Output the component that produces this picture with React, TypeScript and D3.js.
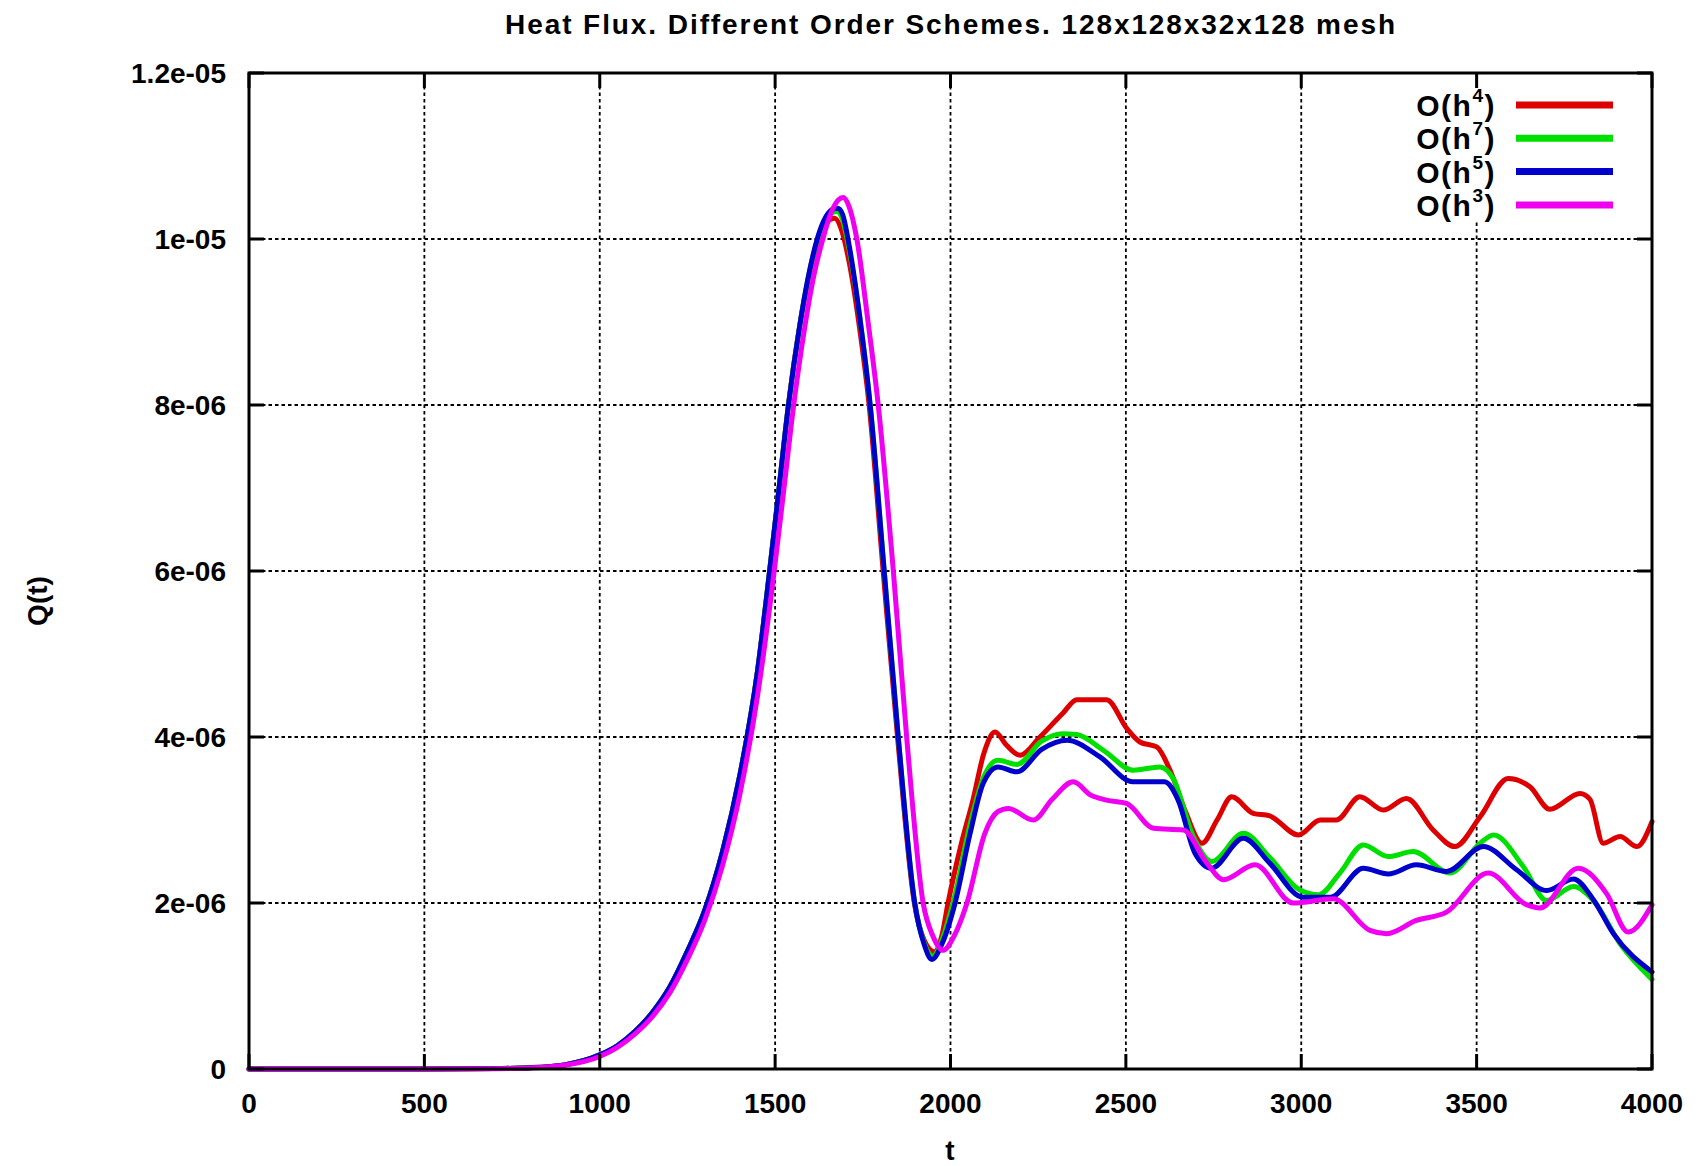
import React from "react";
import * as d3 from "d3";

// ---- data (t, Q in units of 1e-6) ----
const xTicks = [0, 500, 1000, 1500, 2000, 2500, 3000, 3500, 4000];
const yTicks = [0, 2e-6, 4e-6, 6e-6, 8e-6, 1e-5, 1.2e-5];
const yTickLabels = ["0", "2e-06", "4e-06", "6e-06", "8e-06", "1e-05", "1.2e-05"];

const seriesNames = ["4", "7", "5", "3"];
const seriesColors = ["#dd0000", "#00e000", "#0000cc", "#f000f0"];

const red: [number, number][] = [
  [0, 0], [500, 0], [700, 0.005], [800, 0.015], [900, 0.05], [1000, 0.17], [1050, 0.28], [1100, 0.45],
  [1150, 0.68], [1200, 0.99], [1250, 1.42], [1300, 1.92], [1350, 2.62], [1400, 3.55], [1450, 4.8], [1483, 5.95],
  [1510, 6.95], [1538, 8.0], [1570, 8.95], [1595, 9.52], [1620, 9.95], [1645, 10.19], [1670, 10.25], [1690, 10.1],
  [1712, 9.7], [1740, 8.95], [1768, 8.0], [1808, 6.0], [1849, 4.0], [1897, 2.0], [1925, 1.55], [1955, 1.41],
  [1975, 1.6], [1993, 2.0], [2030, 2.7], [2064, 3.24], [2095, 3.8], [2127, 4.06], [2160, 3.9], [2198, 3.78],
  [2255, 4.0], [2321, 4.29], [2360, 4.45], [2445, 4.45], [2503, 4.1], [2540, 3.94], [2588, 3.88], [2626, 3.6],
  [2670, 3.1], [2717, 2.72], [2760, 3.0], [2802, 3.28], [2863, 3.08], [2910, 3.05], [2992, 2.82], [3054, 3.0],
  [3100, 3.0], [3167, 3.28], [3234, 3.12], [3300, 3.26], [3376, 2.88], [3438, 2.68], [3510, 3.04], [3590, 3.5],
  [3652, 3.4], [3709, 3.13], [3795, 3.32], [3823, 3.25], [3861, 2.72], [3909, 2.8], [3957, 2.68], [4000, 2.98],
];

const green: [number, number][] = [
  [0, 0], [500, 0], [700, 0.005], [800, 0.015], [900, 0.05], [1000, 0.17], [1050, 0.28], [1100, 0.45],
  [1150, 0.68], [1200, 0.99], [1250, 1.42], [1300, 1.92], [1350, 2.62], [1400, 3.55], [1450, 4.8], [1483, 5.95],
  [1510, 6.95], [1538, 8.0], [1570, 8.95], [1595, 9.55], [1620, 9.98], [1645, 10.24], [1664, 10.32], [1676, 10.33],
  [1690, 10.26], [1712, 9.85], [1740, 9.1], [1771, 8.0], [1811, 6.0], [1851, 4.0], [1898, 2.0], [1925, 1.52],
  [1950, 1.36], [1975, 1.55], [2010, 2.05], [2056, 2.95], [2093, 3.5], [2135, 3.72], [2190, 3.67], [2260, 3.95],
  [2320, 4.04], [2360, 4.03], [2436, 3.84], [2521, 3.6], [2597, 3.64], [2635, 3.5], [2692, 2.8], [2745, 2.5],
  [2835, 2.84], [2910, 2.55], [2995, 2.16], [3050, 2.1], [3110, 2.36], [3177, 2.7], [3248, 2.56], [3319, 2.62],
  [3424, 2.36], [3510, 2.72], [3548, 2.82], [3633, 2.44], [3700, 2.03], [3776, 2.2], [3833, 2.03], [3909, 1.51],
  [4000, 1.08],
];

const blue: [number, number][] = [
  [0, 0], [500, 0], [700, 0.005], [800, 0.015], [900, 0.05], [1000, 0.17], [1050, 0.28], [1100, 0.45],
  [1150, 0.68], [1200, 0.99], [1250, 1.42], [1300, 1.92], [1350, 2.62], [1400, 3.55], [1450, 4.8], [1483, 5.95],
  [1510, 6.95], [1538, 8.0], [1570, 8.95], [1595, 9.55], [1620, 10.0], [1645, 10.27], [1665, 10.36], [1678, 10.37],
  [1692, 10.3], [1712, 9.9], [1740, 9.1], [1771, 8.0], [1811, 6.0], [1851, 4.0], [1898, 2.0], [1925, 1.5],
  [1947, 1.32], [1975, 1.5], [2013, 2.0], [2056, 2.84], [2093, 3.44], [2135, 3.64], [2189, 3.58], [2260, 3.85],
  [2332, 3.96], [2426, 3.76], [2520, 3.46], [2610, 3.46], [2649, 3.24], [2697, 2.6], [2744, 2.42], [2835, 2.78],
  [2910, 2.48], [3005, 2.07], [3083, 2.07], [3177, 2.42], [3248, 2.35], [3328, 2.46], [3414, 2.38], [3519, 2.68],
  [3614, 2.4], [3700, 2.15], [3776, 2.29], [3833, 2.04], [3890, 1.63], [4000, 1.17],
];

const magenta: [number, number][] = [
  [0, 0], [500, 0], [700, 0.004], [800, 0.012], [900, 0.045], [1000, 0.15], [1050, 0.26], [1100, 0.42],
  [1150, 0.63], [1200, 0.92], [1250, 1.32], [1300, 1.8], [1350, 2.45], [1400, 3.32], [1450, 4.5], [1496, 5.95],
  [1524, 6.95], [1553, 8.0], [1585, 8.95], [1610, 9.55], [1636, 10.0], [1660, 10.32], [1680, 10.47], [1694, 10.5],
  [1710, 10.4], [1733, 10.0], [1765, 9.0], [1794, 8.0], [1837, 6.0], [1875, 4.0], [1922, 2.0], [1950, 1.6],
  [1979, 1.43], [2010, 1.6], [2047, 2.0], [2098, 2.84], [2135, 3.1], [2165, 3.14], [2236, 3.0], [2290, 3.25],
  [2350, 3.46], [2400, 3.3], [2445, 3.24], [2502, 3.2], [2579, 2.9], [2664, 2.88], [2731, 2.48], [2778, 2.28],
  [2868, 2.46], [2977, 2.0], [3091, 2.05], [3196, 1.67], [3244, 1.63], [3328, 1.79], [3414, 1.89], [3533, 2.36],
  [3642, 1.98], [3680, 1.94], [3790, 2.42], [3871, 2.11], [3932, 1.65], [4000, 1.98],
];

const allSeries = [red, green, blue, magenta];

const W = 1702;
const H = 1166;
const M = { left: 249, right: 1652, top: 73, bottom: 1069 };
const FONT = "'Liberation Sans', Arial, Helvetica, sans-serif";

export default function App() {
  const x = d3.scaleLinear().domain([0, 4000]).range([M.left, M.right]);
  const y = d3.scaleLinear().domain([0, 1.2e-5]).range([M.bottom, M.top]);
  const line = d3
    .line<[number, number]>()
    .x((d) => x(d[0]))
    .y((d) => y(d[1] * 1e-6))
    .curve(d3.curveMonotoneX);

  const tick = 15;
  const legendRowY = (i: number) => 105 + i * 33.3;

  return (
    <svg
      width={W}
      height={H}
      viewBox={`0 0 ${W} ${H}`}
      style={{ position: "absolute", left: 0, top: 0, background: "#fff" }}
      fontFamily={FONT}
    >
      <rect x={0} y={0} width={W} height={H} fill="#fff" />
      {/* title */}
      <text
        x={950}
        y={34}
        textAnchor="middle"
        fontSize={28}
        fontWeight="bold"
        fill="#000"
        textLength={890}
        lengthAdjust="spacing"
      >
        Heat Flux. Different Order Schemes. 128x128x32x128 mesh
      </text>

      {/* grid */}
      <g stroke="#000" strokeWidth={1.8} strokeDasharray="3.5,3">
        {xTicks.slice(1, -1).map((t) => (
          <line key={"gx" + t} x1={x(t)} x2={x(t)} y1={M.top} y2={M.bottom} />
        ))}
        {yTicks.slice(1, -1).map((v) => (
          <line key={"gy" + v} x1={M.left} x2={M.right} y1={y(v)} y2={y(v)} />
        ))}
      </g>

      {/* opaque key area */}
      <rect x={1405} y={88} width={225} height={134} fill="#fff" />

      {/* data lines */}
      <g fill="none" strokeWidth={5} strokeLinejoin="round" strokeLinecap="round">
        {allSeries.map((s, i) => (
          <path key={"s" + i} d={line(s) || ""} stroke={seriesColors[i]} />
        ))}
      </g>

      {/* legend */}
      {seriesNames.map((n, i) => (
        <g key={"lg" + i}>
          <text
            x={1496}
            y={legendRowY(i) + 11}
            textAnchor="end"
            fontSize={30}
            fontWeight="bold"
            fill="#000"
            letterSpacing={1.5}
          >
            O(h
            <tspan dy={-14} fontSize={19}>{n}</tspan>
            <tspan dy={14}>)</tspan>
          </text>
          <line
            x1={1516}
            x2={1613}
            y1={legendRowY(i)}
            y2={legendRowY(i)}
            stroke={seriesColors[i]}
            strokeWidth={7}
          />
        </g>
      ))}

      {/* ticks */}
      <g stroke="#000" strokeWidth={3}>
        {xTicks.map((t) => (
          <g key={"tx" + t}>
            <line x1={x(t)} x2={x(t)} y1={M.bottom} y2={M.bottom - tick} />
            <line x1={x(t)} x2={x(t)} y1={M.top} y2={M.top + tick} />
          </g>
        ))}
        {yTicks.map((v) => (
          <g key={"ty" + v}>
            <line x1={M.left} x2={M.left + tick} y1={y(v)} y2={y(v)} />
            <line x1={M.right} x2={M.right - tick} y1={y(v)} y2={y(v)} />
          </g>
        ))}
      </g>

      {/* frame */}
      <rect
        x={M.left}
        y={M.top}
        width={M.right - M.left}
        height={M.bottom - M.top}
        fill="none"
        stroke="#000"
        strokeWidth={3}
      />

      {/* tick labels */}
      <g fontSize={28} fontWeight="bold" fill="#000">
        {xTicks.map((t) => (
          <text key={"lx" + t} x={x(t)} y={1113} textAnchor="middle">
            {String(t)}
          </text>
        ))}
        {yTicks.map((v, i) => (
          <text key={"ly" + v} x={226} y={y(v) + 10} textAnchor="end">
            {yTickLabels[i]}
          </text>
        ))}
      </g>

      {/* axis labels */}
      <text x={950} y={1160} textAnchor="middle" fontSize={28} fontWeight="bold" fill="#000">
        t
      </text>
      <text
        transform="translate(47,601) rotate(-90)"
        textAnchor="middle"
        fontSize={28}
        fontWeight="bold"
        fill="#000"
      >
        Q(t)
      </text>
    </svg>
  );
}
